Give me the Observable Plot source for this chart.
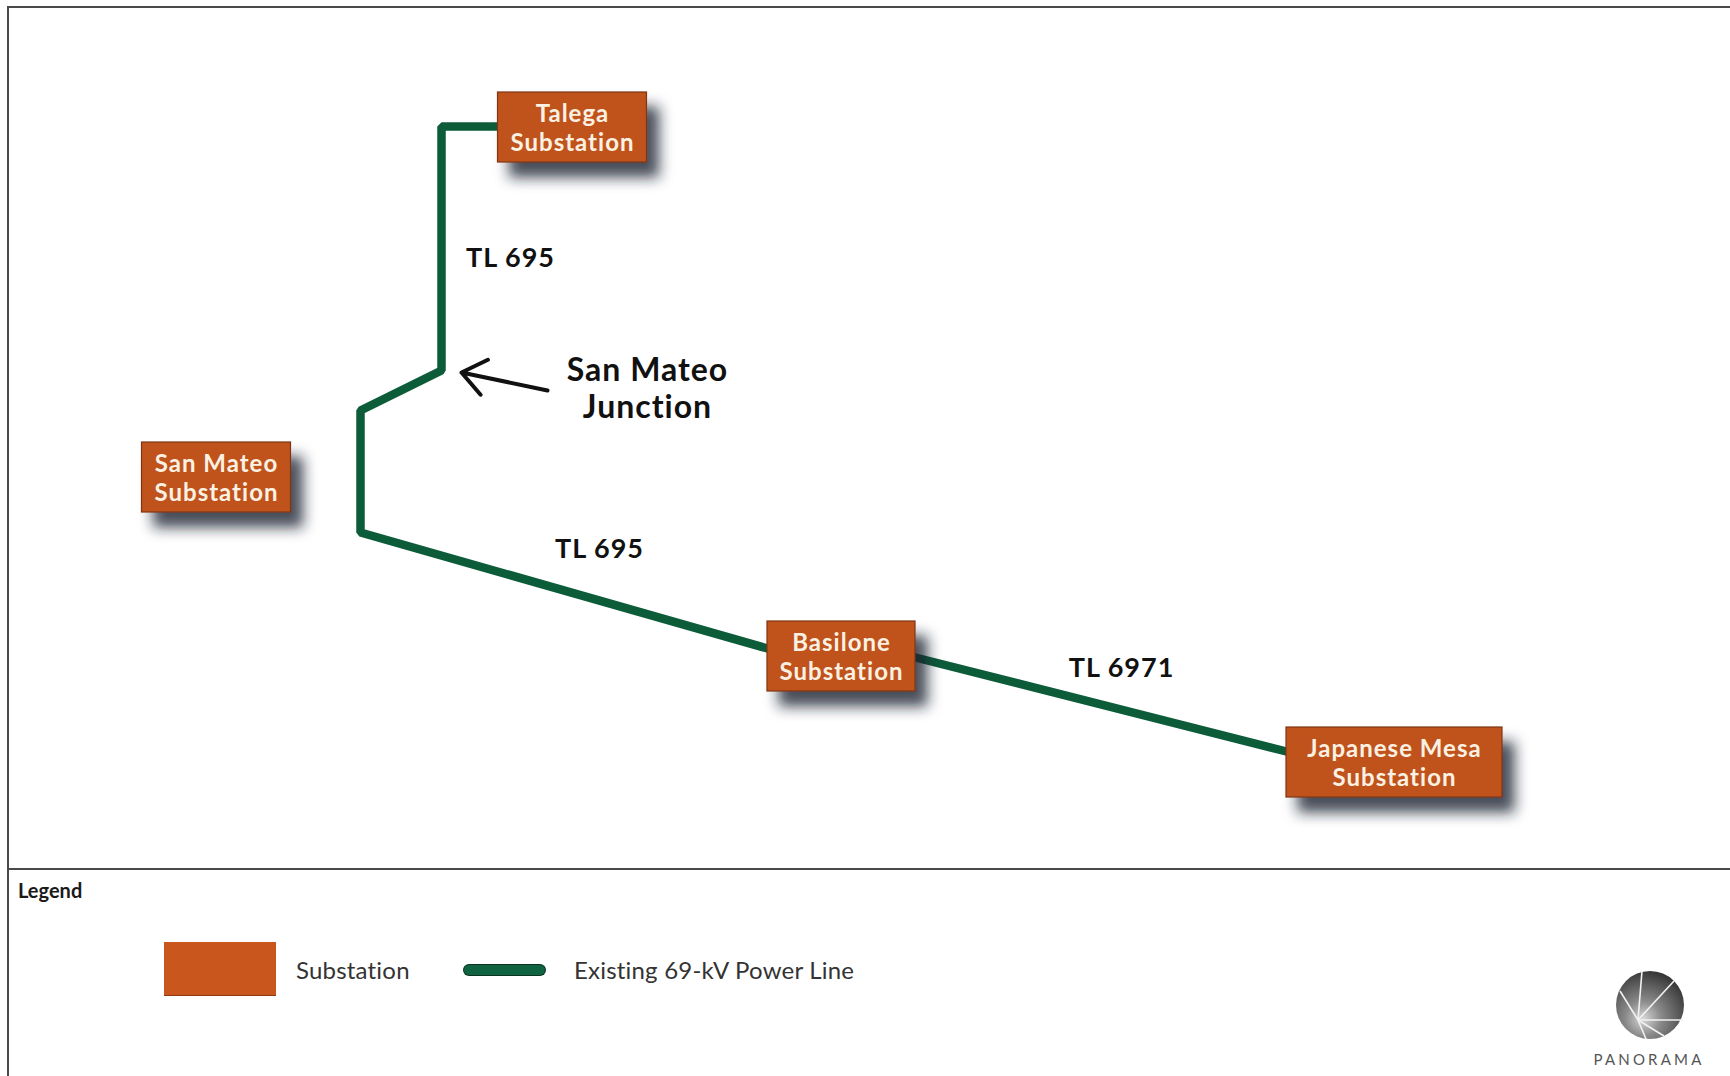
<!DOCTYPE html>
<html><head><meta charset="utf-8">
<script src="https://cdn.jsdelivr.net/npm/d3@7"></script>
<script src="https://cdn.jsdelivr.net/npm/@observablehq/plot@0.6"></script>
<style>
html,body{margin:0;padding:0;background:#fff;}
body{width:1730px;height:1076px;overflow:hidden;position:relative;font-family:Lato,"Open Sans",sans-serif;}
#chart{position:absolute;left:0;top:0;}
#frame{position:absolute;left:7px;top:6px;width:1740px;height:1090px;border-top:2px solid #4a4a4a;border-left:2px solid #4a4a4a;pointer-events:none;}
#divider{position:absolute;left:7px;top:868px;width:1740px;border-top:2px solid #4a4a4a;}
#legend{position:absolute;left:0;top:870px;width:1730px;height:206px;}
#legend .title{position:absolute;left:18px;top:8px;font-size:20px;font-weight:700;color:#1a1a1a;}
#legend .sw-sub{position:absolute;left:164px;top:72px;width:112px;height:53px;background:#c8561d;border-bottom:1px solid #8d3a12;}
#legend .lab{position:absolute;font-size:24px;color:#333;line-height:30px;letter-spacing:0.2px;}
#legend .sw-line{position:absolute;left:464px;top:95px;width:81px;height:10px;border-radius:5px;background:#0f6341;box-shadow:0 0 0 1px #0a3322;}
#logo{position:absolute;left:1590px;top:88px;}
#panorama{position:absolute;left:1549px;top:180px;width:200px;text-align:center;font-size:15px;letter-spacing:3.2px;color:#555;}
</style>
</head><body>
<div id="chart"></div>
<div id="frame"></div>
<div id="divider"></div>
<div id="legend"></div>
<script>
// ---- Data (schematic units) ----
const substationNames = ["Talega\nSubstation", "San Mateo\nSubstation", "Basilone\nSubstation", "Japanese Mesa\nSubstation"];
const substationX = [572, 216, 841, 1394];
const substationY = [127, 477, 656, 762];
const substationSpan = [149, 149, 148, 216];

const lineRouteX = [572, 441, 441, 360, 360, 767, 915, 1290];
const lineRouteY = [126, 126, 370, 410, 532, 648, 657, 752];

const lineLabels = ["TL 695", "TL 695", "TL 6971"];
const lineLabelX = [510, 599, 1121];
const lineLabelY = [258, 549, 668];

const junctionLabel = ["San Mateo\nJunction"];
const junctionLabelX = [647];
const junctionLabelY = [387];
const arrowFrom = [547, 390];
const arrowTo = [461, 372];

const legendItems = ["Substation", "Existing 69-kV Power Line"];

// ---- Build tables ----
const BOX_H = 70;
const substations = substationNames.map((n, i) => ({name: n, x: substationX[i], y: substationY[i], w: substationSpan[i]}));
const route = lineRouteX.map((x, i) => ({x, y: lineRouteY[i]}));
const lineLabelData = lineLabels.map((t, i) => ({t, x: lineLabelX[i], y: lineLabelY[i]}));
const junction = junctionLabel.map((t, i) => ({t, x: junctionLabelX[i], y: junctionLabelY[i]}));

const plot = Plot.plot({
  width: 1730, height: 870,
  margin: 0,
  x: {domain: [0, 1730], range: [0, 1730], axis: null},
  y: {domain: [0, 870], range: [0, 870], axis: null},
  style: {fontFamily: "Lato, 'Open Sans', sans-serif", background: "transparent", overflow: "visible"},
  marks: [
    Plot.line(route, {x: "x", y: "y", stroke: "#0d5c39", strokeWidth: 8.5, strokeLinejoin: "miter", strokeLinecap: "butt"}),
    Plot.rect(substations, {
      x1: d => d.x - d.w / 2, x2: d => d.x + d.w / 2,
      y1: d => d.y - BOX_H / 2, y2: d => d.y + BOX_H / 2,
      fill: "#c0521e", stroke: "#7e3512", strokeWidth: 1.2
    }),
    Plot.text(substations, {x: "x", y: "y", text: "name", fill: "#fbf1e2", fontSize: 24, fontWeight: 700, lineHeight: 1.2, lineAnchor: "middle"}),
    Plot.text(lineLabelData, {x: "x", y: "y", text: "t", fill: "#111", fontSize: 27, fontWeight: 700, lineAnchor: "middle"}),
    Plot.text(junction, {x: "x", y: "y", text: "t", fill: "#111", fontSize: 32, fontWeight: 700, lineHeight: 1.18, lineAnchor: "middle"}),
    Plot.arrow([{x1: arrowFrom[0], y1: arrowFrom[1], x2: arrowTo[0], y2: arrowTo[1]}], {
      x1: "x1", y1: "y1", x2: "x2", y2: "y2", stroke: "#111", strokeWidth: 4, headLength: 13, headAngle: 75
    })
  ]
});

// drop shadow for substation boxes, wider letter spacing for labels
const svg = d3.select(plot);
const defs = svg.insert("defs", ":first-child");
const f = defs.append("filter").attr("id", "boxShadow").attr("x", "-30%").attr("y", "-30%").attr("width", "180%").attr("height", "200%");
f.append("feDropShadow").attr("dx", 12).attr("dy", 15).attr("stdDeviation", 7).attr("flood-color", "#1c2230").attr("flood-opacity", 0.8);
svg.selectAll("g[aria-label='rect']").attr("filter", "url(#boxShadow)");
svg.selectAll("g[aria-label='text'] text").style("letter-spacing", "1px");

document.getElementById("chart").appendChild(plot);

// ---- Legend ----
const lg = d3.select("#legend");
lg.append("div").attr("class", "title").text("Legend");
lg.append("div").attr("class", "sw-sub");
lg.append("div").attr("class", "lab").style("left", "296px").style("top", "85px").text(legendItems[0]);
lg.append("div").attr("class", "sw-line");
lg.append("div").attr("class", "lab").style("left", "574px").style("top", "85px").text(legendItems[1]);

// logo
const lsvg = lg.append("svg").attr("id", "logo").attr("width", 120).attr("height", 95);
const grad = lsvg.append("defs").append("radialGradient").attr("id", "lgGrad").attr("cx", "40%").attr("cy", "70%").attr("r", "75%");
grad.append("stop").attr("offset", "0%").attr("stop-color", "#d8d8d8");
grad.append("stop").attr("offset", "35%").attr("stop-color", "#8a8a8a");
grad.append("stop").attr("offset", "100%").attr("stop-color", "#2f2f2f");
const cx = 60, cy = 47, r = 34;
lsvg.append("circle").attr("cx", cx).attr("cy", cy).attr("r", r).attr("fill", "url(#lgGrad)");
const bx = cx - 12, by = cy + 15;
const rays = [[cx - 8, cy - r], [cx + 24, cy - 24], [cx + r, cy + 15], [cx + 14, cy + 31], [cx - 4, cy + r], [cx - 30, cy - 14]];
rays.forEach(([ex, ey]) => lsvg.append("line").attr("x1", bx).attr("y1", by).attr("x2", ex).attr("y2", ey).attr("stroke", "#f2f2f2").attr("stroke-width", 1.6));
lg.append("div").attr("id", "panorama").text("PANORAMA");
</script>
</body></html>
